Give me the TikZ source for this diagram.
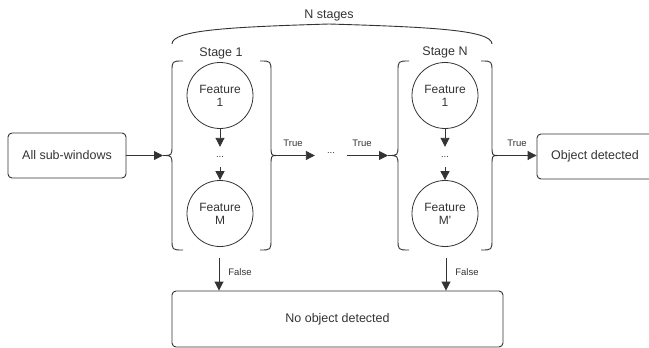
\documentclass[tikz,border=0pt]{standalone}
\usepackage{fontspec}
\setmainfont{Liberation Sans}
\usetikzlibrary{arrows.meta}
\definecolor{ln}{HTML}{333333}
\definecolor{tx}{HTML}{333333}
\begin{document}
\begin{tikzpicture}[x=1pt,y=-1pt,
 box/.style={draw=ln, line width=0.9pt, rounded corners=4pt, text=tx, font=\fontsize{12.5}{15}\selectfont},
 feat/.style={draw=ln, line width=0.8pt, circle, minimum size=66pt, inner sep=0pt, align=center, text=tx, font=\fontsize{12}{13}\selectfont},
 lbl/.style={text=tx, font=\fontsize{12.5}{15}\selectfont},
 sml/.style={text=tx, font=\fontsize{9.5}{11}\selectfont},
 arr/.style={draw=ln, line width=0.9pt, -{Triangle[length=9pt,width=9pt]}},
 brc/.style={draw=ln, line width=0.9pt}
]
\path[use as bounding box] (0,0) rectangle (649,348);
\clip (0,0) rectangle (649,348);

% boxes
\node[box, minimum width=118pt, minimum height=45pt] (asw) at (67,155.5) {All sub-windows};
\node[box, minimum width=116pt, minimum height=45pt] (obj) at (595,156.5) {Object detected};
\node[box, minimum width=331pt, minimum height=56pt] (noobj) at (337.5,319) {No object detected};

% labels
\node[lbl] (ns) at (329,15) {N stages};
\node[lbl] (st1) at (221,53) {Stage 1};
\node[lbl] (stN) at (445,52) {Stage N};

% features
\node[feat] (f11) at (220,95.5) {Feature\\1};
\node[feat] (f1M) at (220,213.5) {Feature\\M};
\node[feat] (fN1) at (445,95.5) {Feature\\1};
\node[feat] (fNM) at (445,213.5) {Feature\\M\textquotesingle};
\node[sml, minimum height=20pt, inner sep=0pt] (d1) at (220,157) {...};
\node[sml, minimum height=20pt, inner sep=0pt] (dN) at (445,157) {...};
\node[sml, inner ysep=3pt, inner xsep=12pt] (mid) at (331,153) {...};

% braces
\draw[brc] (329,24) .. controls (230,27) and (172,30) .. (172,44);
\draw[brc] (329,24) .. controls (430,27) and (492,30) .. (492,44);
\draw[brc] (183,61) .. controls (172,61) .. (172,72) -- (172,145) .. controls (172,155.5) .. (163,155.5) .. controls (172,155.5) .. (172,166) -- (172,239) .. controls (172,250) .. (183,250);
\draw[brc] (260,61) .. controls (271,61) .. (271,72) -- (271,145) .. controls (271,155.5) .. (277,155.5) .. controls (271,155.5) .. (271,166) -- (271,239) .. controls (271,250) .. (260,250);
\draw[brc] (409,61) .. controls (398,61) .. (398,72) -- (398,145) .. controls (398,155.5) .. (388,155.5) .. controls (398,155.5) .. (398,166) -- (398,239) .. controls (398,250) .. (409,250);
\draw[brc] (481,61) .. controls (492,61) .. (492,72) -- (492,145) .. controls (492,155.5) .. (498,155.5) .. controls (492,155.5) .. (492,166) -- (492,239) .. controls (492,250) .. (481,250);

\coordinate (s1in) at (163,155.5);
\coordinate (s1out) at (277,155.5);
\coordinate (sNin) at (388,155.5);
\coordinate (sNout) at (498,155.5);
\coordinate (s1bot) at (219,258);
\coordinate (sNbot) at (446,258);

% connectors
\draw[arr] (asw.east) -- (s1in);
\draw[arr] (s1out) -- (mid.west |- s1out);
\draw[arr] (mid.east |- sNin) -- (sNin);
\draw[arr] (sNout) -- (obj.west |- sNout);
\draw[arr] (f11) -- (d1);
\draw[arr] (d1) -- (f1M);
\draw[arr] (fN1) -- (dN);
\draw[arr] (dN) -- (fNM);
\draw[arr] (s1bot) -- (s1bot |- noobj.north);
\draw[arr] (sNbot) -- (sNbot |- noobj.north);

% connector labels
\node[sml] (t1) at (293,143) {True};
\node[sml] (t2) at (362,143) {True};
\node[sml] (t3) at (517,143) {True};
\node[sml] (fa1) at (240,272) {False};
\node[sml] (fa2) at (467,272) {False};
\end{tikzpicture}
\end{document}
